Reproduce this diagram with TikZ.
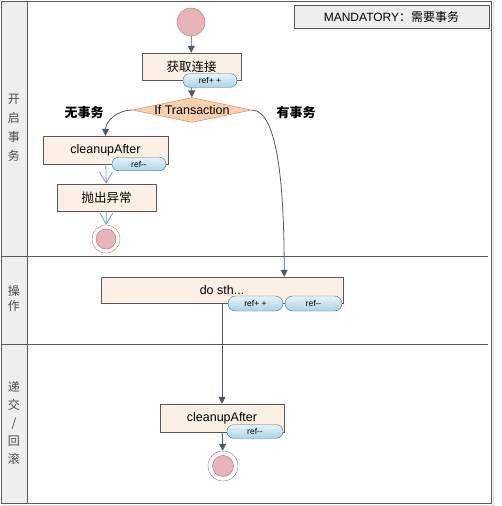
\documentclass[tikz,border=0pt]{standalone}
\usepackage{fontspec}
\setmainfont{Liberation Sans}
\newfontfamily\cjk{Noto Sans CJK SC}
\usetikzlibrary{shapes.geometric,arrows.meta}
\definecolor{boxfill}{HTML}{FCEFE3}
\definecolor{boxline}{HTML}{555A60}
\definecolor{pilltop}{HTML}{E6F3F9}
\definecolor{pillbot}{HTML}{A9D3E6}
\definecolor{pillline}{HTML}{3F6E86}
\definecolor{diafill}{HTML}{F9CFAC}
\definecolor{dialine}{HTML}{C6824C}
\definecolor{blob}{HTML}{E8B4BA}
\definecolor{blobline}{HTML}{B27078}
\definecolor{arrowc}{HTML}{4B5B6B}
\definecolor{barbc}{HTML}{6E9CC6}
\definecolor{lanegray}{HTML}{EEEEEE}
\begin{document}
\begin{tikzpicture}[x=1pt,y=-1pt]
    \tikzset{act/.style={draw=boxline,fill=boxfill,inner sep=0pt,font=\fontsize{12.5}{14}\selectfont},
        pill/.style={draw=pillline,top color=pilltop,bottom color=pillbot,rounded corners=6.5pt,
            minimum height=13.5pt,inner sep=0pt,font=\fontsize{8.5}{10}\selectfont},
        choice/.style={diamond,aspect=4.8,draw=dialine,fill=diafill,inner sep=0pt,
            font=\fontsize{12.5}{14}\selectfont},
        blobnode/.style={circle,draw=blobline,fill=blob,inner sep=0pt},
        darr/.style={draw=arrowc,line width=0.8pt,-{Triangle[length=7pt,width=7pt]}},
        larr/.style={draw=barbc,line width=0.8pt,-{Straight Barb[length=11pt,width=13pt]}},
        lanetxt/.style={align=center,text=black!70}}
    \useasboundingbox (0,0) rectangle (501,506);
    % swimlanes
    \fill[lanegray] (1,1) rectangle (27,503);
    \draw[black!15] (3,505) -- (493,505) -- (493,3);
    \draw[boxline,line width=0.8pt] (1,1) rectangle (491,503) (27,1) -- (27,503);
    \foreach \y in {256,344}
        \draw[boxline,line width=0.8pt] (1,\y) -- (488,\y);
    \node[lanetxt,font=\cjk\fontsize{12}{19}\selectfont] at (14,128) {开\\启\\事\\务};
    \node[lanetxt,font=\cjk\fontsize{12}{15}\selectfont] at (14,298) {操\\作};
    \node[lanetxt,font=\cjk\fontsize{12}{18}\selectfont] at (14,423) {递\\交\\/\\回\\滚};
    \node[draw=boxline,fill=lanegray,minimum width=195pt,minimum height=23pt,inner sep=0pt,
        font=\fontsize{12}{14}\selectfont] (mode) at (391.5,16.5) {MANDATORY{\cjk ：需要事务}};
    % activities
    \node[blobnode,minimum size=28pt] (start) at (191,22) {};
    \node[act,minimum width=99pt,minimum height=27pt] (conn) at (191.5,66.5) {\cjk 获取连接};
    \node[choice] (hasTx) at (192,110) {If Transaction};
    \node[act,minimum width=125pt,minimum height=28pt] (clean1) at (105.5,150) {cleanupAfter};
    \node[act,minimum width=99pt,minimum height=27pt] (throw) at (106.5,197.5) {\cjk 抛出异常};
    \node[blobnode,fill=white,minimum size=28pt] (end1) at (106,239) {};
    \node[blobnode,minimum size=20pt] at (end1) {};
    \node[act,minimum width=242pt,minimum height=26pt] (dosth) at (222,290) {do sth...};
    \node[act,minimum width=124pt,minimum height=28pt] (clean2) at (222,418) {cleanupAfter};
    \node[blobnode,fill=white,minimum size=30pt] (end2) at (223,466) {};
    \node[blobnode,minimum size=21pt] at (end2) {};
    % flow
    \draw[darr] (start) -- (conn);
    \draw[darr] (conn) -- (hasTx);
    \draw[darr] (hasTx.west) to[out=180,in=90] (clean1.north);
    \draw[darr] (hasTx.east) to[out=0,in=90,out looseness=0.4,in looseness=1.3] ([xshift=-59pt]dosth.north east);
    \draw[larr] (clean1) -- (throw);
    \draw[larr] (throw) -- (end1);
    \draw[darr] (dosth) -- (clean2);
    \draw[darr] (clean2) -- (end2);
    \node[font=\cjk\bfseries\fontsize{13}{15}\selectfont] (noTx) at (84,113) {无事务};
    \node[font=\cjk\bfseries\fontsize{13}{15}\selectfont] (withTx) at (296,113) {有事务};
    % counters
    \node[pill,minimum width=54pt] (inc1) at (210,80.5) {ref+ +};
    \node[pill,minimum width=54pt] (dec1) at (139,164) {ref-{}-};
    \node[pill,minimum width=55pt,minimum height=15pt,rounded corners=7.5pt] (inc2) at (255.5,303.5) {ref+ +};
    \node[pill,minimum width=57pt,minimum height=15pt,rounded corners=7.5pt] (dec2) at (313.5,303.5) {ref-{}-};
    \node[pill,minimum width=56pt] (dec3) at (255,431.5) {ref-{}-};
\end{tikzpicture}
\end{document}
